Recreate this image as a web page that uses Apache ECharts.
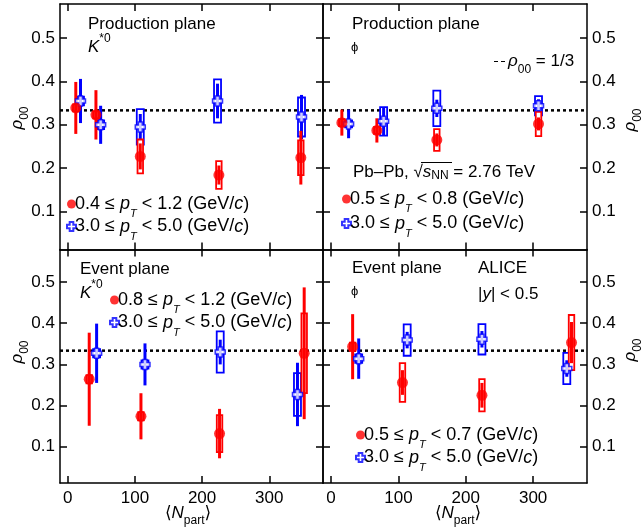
<!DOCTYPE html>
<html><head><meta charset="utf-8">
<script src="https://cdn.jsdelivr.net/npm/echarts@6/dist/echarts.min.js"></script>
<style>html,body{margin:0;padding:0;background:#fff}#c{width:642px;height:529px}</style>
</head><body><div id="c"></div>
<script>
// ---------- data ----------
// K*0, production plane
const kProdLowN    = [12, 42, 108, 225, 347];
const kProdLowRho  = [0.339, 0.323, 0.227, 0.184, 0.224];
const kProdLowStat = [0.060, 0.057, 0.030, 0.022, 0.062];
const kProdLowSys  = [0.008, 0.008, 0.039, 0.032, 0.040];
const kProdHighN    = [19, 49, 108, 223, 348];
const kProdHighRho  = [0.355, 0.300, 0.295, 0.355, 0.318];
const kProdHighStat = [0.051, 0.044, 0.030, 0.040, 0.051];
const kProdHighSys  = [0.010, 0.010, 0.041, 0.050, 0.045];
// phi, production plane
const phiProdLowN    = [16, 68, 157, 308];
const phiProdLowRho  = [0.305, 0.287, 0.265, 0.302];
const phiProdLowStat = [0.030, 0.028, 0.015, 0.015];
const phiProdLowSys  = [0.008, 0.008, 0.025, 0.028];
const phiProdHighN    = [26, 78, 157, 308];
const phiProdHighRho  = [0.302, 0.308, 0.338, 0.344];
const phiProdHighStat = [0.033, 0.033, 0.020, 0.015];
const phiProdHighSys  = [0.008, 0.033, 0.041, 0.022];
// K*0, event plane
const kEvLowN    = [32, 109, 226, 352];
const kEvLowRho  = [0.264, 0.174, 0.132, 0.327];
const kEvLowStat = [0.113, 0.056, 0.060, 0.160];
const kEvLowSys  = [0.010, 0.010, 0.045, 0.097];
const kEvHighN    = [43, 115, 227, 342];
const kEvHighRho  = [0.327, 0.300, 0.330, 0.227];
const kEvHighStat = [0.072, 0.051, 0.030, 0.077];
const kEvHighSys  = [0.010, 0.010, 0.050, 0.052];
// phi, event plane
const phiEvLowN    = [32, 106, 224, 357];
const phiEvLowRho  = [0.343, 0.256, 0.225, 0.353];
const phiEvLowStat = [0.079, 0.030, 0.030, 0.050];
const phiEvLowSys  = [0.010, 0.047, 0.039, 0.067];
const phiEvHighN    = [41, 113, 224, 350];
const phiEvHighRho  = [0.314, 0.359, 0.361, 0.290];
const phiEvHighStat = [0.049, 0.020, 0.020, 0.020];
const phiEvHighSys  = [0.010, 0.038, 0.037, 0.038];

const rhoRef = 1 / 3;
const xTicks = [0, 100, 200, 300];
const yTicks = [0.1, 0.2, 0.3, 0.4, 0.5];

// ---------- style ----------
const FONT = "'Liberation Sans', Arial, Helvetica, 'DejaVu Sans', sans-serif";
const RED = '#ff0000', BLUE = '#0000ff', BLK = '#000';
const CROSS = 'path://M3,0H7V3H10V7H7V10H3V7H0V3H3Z';
const yRange = [0.012, 0.579];
const xRangeL = [-11.5, 380], xRangeR = [-12, 380];

const grids = [
  {left: 60,  top: 4,     width: 263, height: 245.5},
  {left: 323, top: 4,     width: 264, height: 245.5},
  {left: 60,  top: 249.5, width: 263, height: 233.5},
  {left: 323, top: 249.5, width: 264, height: 233.5}
];

const rich = {
  r:   {fontSize: 17, fontFamily: FONT, color: BLK},
  i:   {fontSize: 17, fontFamily: FONT, color: BLK, fontStyle: 'italic'},
  lr:  {fontSize: 18, fontFamily: FONT, color: BLK},
  li:  {fontSize: 18, fontFamily: FONT, color: BLK, fontStyle: 'italic'},
  sub: {fontSize: 11, fontFamily: FONT, color: BLK, fontStyle: 'italic', padding: [20, 0, 0, 0]},
  subr:{fontSize: 12, fontFamily: FONT, color: BLK, padding: [16, 0, 0, 0]},
  subn:{fontSize: 12, fontFamily: FONT, color: BLK, padding: [7, 0, 0, 0]},
  sup: {fontSize: 12, fontFamily: FONT, color: BLK, padding: [0, 0, 16, 0]},
  phi: {fontSize: 13, fontFamily: FONT, color: BLK}
};

function ptLabel(lo, hi) {
  return '{lr|' + lo + ' \u2264 }{li|p}{sub|T}{lr| < ' + hi + ' (GeV/}{li|c}{lr|)}';
}
const legendText = {
  kProdLow: ptLabel('0.4', '1.2'), kProdHigh: ptLabel('3.0', '5.0'),
  phiProdLow: ptLabel('0.5', '0.8'), phiProdHigh: ptLabel('3.0', '5.0'),
  kEvLow: ptLabel('0.8', '1.2'), kEvHigh: ptLabel('3.0', '5.0'),
  phiEvLow: ptLabel('0.5', '0.7'), phiEvHigh: ptLabel('3.0', '5.0'),
  ref2: '{i|\u03c1}{subr|00}{r| = 1/3}'
};

function zip(n, v, s, y) { return n.map((x, k) => [x, v[k], s[k], y[k]]); }

function errRender(color, boxW) {
  return function (params, api) {
    const x = api.value(0), y = api.value(1), st = api.value(2), sy = api.value(3);
    const c = api.coord([x, y]);
    const sT = api.coord([x, y + st])[1], sB = api.coord([x, y - st])[1];
    const bT = api.coord([x, y + sy])[1], bB = api.coord([x, y - sy])[1];
    return {type: 'group', children: [
      {type: 'rect', shape: {x: c[0] - boxW / 2, y: bT, width: boxW, height: bB - bT},
       style: {fill: '#fff', stroke: color, lineWidth: 1.8}},
      {type: 'line', shape: {x1: c[0], y1: sT, x2: c[0], y2: sB},
       style: {stroke: color, lineWidth: 3}}
    ]};
  };
}

const xAxis = [], yAxis = [], series = [];
grids.forEach((g, gi) => {
  const xr = (gi % 2 === 0) ? xRangeL : xRangeR;
  const bottomRow = gi >= 2, leftCol = gi % 2 === 0;
  const line = {show: true, onZero: false, lineStyle: {color: BLK, width: 1.5}};
  const tickX = {show: true, inside: true, length: 7, customValues: xTicks, lineStyle: {color: BLK, width: 1.5}};
  const tickY = {show: true, inside: true, length: 7, customValues: yTicks, lineStyle: {color: BLK, width: 1.5}};
  xAxis.push({gridIndex: gi, type: 'value', position: 'bottom', min: xr[0], max: xr[1],
    axisLine: line, axisTick: tickX, splitLine: {show: false},
    axisLabel: {show: bottomRow, customValues: xTicks, color: BLK, fontSize: 17, fontFamily: FONT, margin: 7}});
  xAxis.push({gridIndex: gi, type: 'value', position: 'top', min: xr[0], max: xr[1],
    axisLine: line, axisTick: tickX, splitLine: {show: false}, axisLabel: {show: false}});
  yAxis.push({gridIndex: gi, type: 'value', position: 'left', min: yRange[0], max: yRange[1],
    axisLine: line, axisTick: tickY, splitLine: {show: false},
    axisLabel: {show: leftCol, customValues: yTicks, color: BLK, fontSize: 17, fontFamily: FONT, margin: 5,
      formatter: v => v.toFixed(1)}});
  yAxis.push({gridIndex: gi, type: 'value', position: 'right', min: yRange[0], max: yRange[1],
    axisLine: line, axisTick: tickY, splitLine: {show: false},
    axisLabel: {show: !leftCol, customValues: yTicks, color: BLK, fontSize: 17, fontFamily: FONT, margin: 5,
      formatter: v => v.toFixed(1)}});
  series.push({name: 'ref' + (gi + 1), type: 'line', xAxisIndex: gi * 2, yAxisIndex: gi * 2,
    data: [[xr[0], rhoRef], [xr[1], rhoRef]], symbol: 'none', silent: true, z: 1,
    itemStyle: {color: BLK}, lineStyle: {color: BLK, width: 2.5, type: [3, 3]}});
});

const panels = [
  {gi: 0, low: ['kProdLow', kProdLowN, kProdLowRho, kProdLowStat, kProdLowSys],
          high: ['kProdHigh', kProdHighN, kProdHighRho, kProdHighStat, kProdHighSys]},
  {gi: 1, low: ['phiProdLow', phiProdLowN, phiProdLowRho, phiProdLowStat, phiProdLowSys],
          high: ['phiProdHigh', phiProdHighN, phiProdHighRho, phiProdHighStat, phiProdHighSys]},
  {gi: 2, low: ['kEvLow', kEvLowN, kEvLowRho, kEvLowStat, kEvLowSys],
          high: ['kEvHigh', kEvHighN, kEvHighRho, kEvHighStat, kEvHighSys]},
  {gi: 3, low: ['phiEvLow', phiEvLowN, phiEvLowRho, phiEvLowStat, phiEvLowSys],
          high: ['phiEvHigh', phiEvHighN, phiEvHighRho, phiEvHighStat, phiEvHighSys]}
];
panels.forEach(p => {
  [['high', BLUE, 7], ['low', RED, 5.5]].forEach(([key, col, bw]) => {
    const d = p[key];
    series.push({name: d[0] + 'Err', type: 'custom', xAxisIndex: p.gi * 2, yAxisIndex: p.gi * 2,
      data: zip(d[1], d[2], d[3], d[4]), renderItem: errRender(col, bw), z: 2, silent: true,
      encode: {x: 0, y: 1}});
  });
  [['high', BLUE], ['low', RED]].forEach(([key, col]) => {
    const d = p[key];
    const isHigh = key === 'high';
    series.push({name: d[0], type: 'scatter', xAxisIndex: p.gi * 2, yAxisIndex: p.gi * 2,
      data: d[1].map((x, k) => [x, d[2][k]]), z: 5, silent: true,
      symbol: isHigh ? CROSS : 'circle', symbolSize: isHigh ? 10 : 11,
      itemStyle: isHigh ? {color: '#fff', borderColor: BLUE, borderWidth: 1.5} : {color: RED}});
  });
});

function legendBox(names, left, top, gap, extra) {
  return Object.assign({data: names, left: left, top: top, orient: 'vertical', padding: 0,
    itemGap: gap, itemWidth: 9, itemHeight: 9, selectedMode: false,
    formatter: n => legendText[n],
    textStyle: {color: BLK, fontSize: 17, fontFamily: FONT, rich: rich, padding: [0, 0, 0, -6]}}, extra || {});
}
const legend = [
  legendBox(['kProdLow', 'kProdHigh'], 66, 195, -2),
  legendBox(['phiProdLow', 'phiProdHigh'], 341, 190, 0),
  legendBox(['kEvLow', 'kEvHigh'], 109, 291, -2),
  legendBox(['phiEvLow', 'phiEvHigh'], 355, 426, -2),
  legendBox([{name: 'ref2', icon: 'path://M0,0H4V1H0Z M7,0H11V1H7Z'}], 494, 53, 0,
    {itemWidth: 11, itemHeight: 3, itemStyle: {color: BLK},
     textStyle: {color: BLK, fontSize: 17, fontFamily: FONT, rich: rich, padding: [0, 0, 0, -2]}})
];

function txt(x, y, text, extra) {
  return Object.assign({type: 'text', x: x, y: y, z: 10, silent: true,
    style: {text: text, rich: rich, fontSize: 17, fontFamily: FONT, fill: BLK, align: 'left', verticalAlign: 'middle'}}, extra || {});
}
function rot(x, y, text) {
  const t = txt(x, y, text);
  t.rotation = Math.PI / 2;
  t.style.align = 'center';
  return t;
}
function ctr(x, y, text) {
  const t = txt(x, y, text);
  t.style.align = 'center';
  return t;
}
const rhoTitle = '{i|\u03c1}{subr|00}';
const nTitle = '{r|\u27e8}{i|N}{subr|part}{r|\u27e9}';
const graphic = [
  txt(88, 24, '{r|Production plane}'),
  txt(88, 47, '{i|K}{sup|*0}'),
  txt(352, 24, '{r|Production plane}'),
  txt(351, 47, '{phi|\u03d5}'),
  txt(353, 172, '{r|Pb\u2013Pb, \u221a}{i|s}{subn|NN}{r| = 2.76 TeV}'),
  {type: 'line', z: 10, silent: true, shape: {x1: 421, y1: 162.5, x2: 452, y2: 162.5}, style: {stroke: BLK, lineWidth: 1}},
  txt(80, 269, '{r|Event plane}'),
  txt(80, 293, '{i|K}{sup|*0}'),
  txt(352, 268, '{r|Event plane}'),
  txt(351, 291, '{phi|\u03d5}'),
  txt(478, 268, '{r|ALICE}'),
  txt(478, 294, '{r||}{i|y}{r|| < 0.5}'),
  ctr(188, 513, nTitle),
  ctr(458, 513, nTitle),
  rot(17, 118, rhoTitle),
  rot(17, 352, rhoTitle),
  rot(630, 120, rhoTitle),
  rot(630, 350, rhoTitle)
];

const chart = echarts.init(document.getElementById('c'), null, {renderer: 'canvas'});
chart.setOption({
  animation: false,
  backgroundColor: '#fff',
  grid: grids.map(g => Object.assign({containLabel: false}, g)),
  xAxis: xAxis, yAxis: yAxis, series: series, legend: legend, graphic: graphic
});
</script>
</body></html>
